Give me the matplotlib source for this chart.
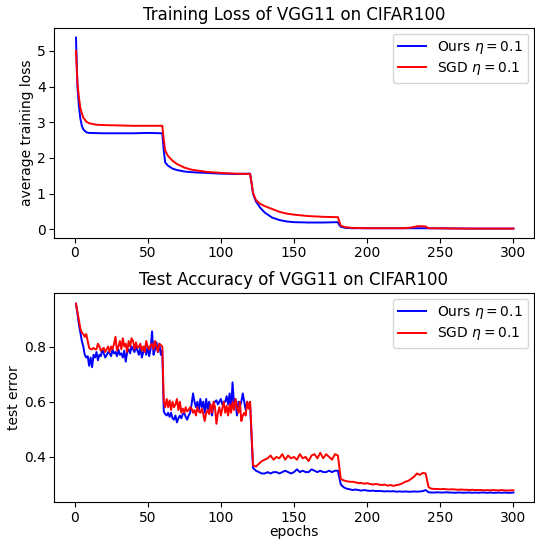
import numpy as np
import matplotlib
matplotlib.use("Agg")
from matplotlib import pyplot as plt

# training loss, read at key epochs
loss_ep_ours = [1, 2, 3, 4, 5, 6, 8, 10, 20, 30, 40, 50, 60,
                61, 62, 64, 67, 70, 75, 80, 90, 100, 110, 120,
                121, 122, 124, 127, 130, 135, 140, 145, 150, 160, 170, 180,
                181, 182, 185, 190, 200, 240, 270, 300]
loss_ours = [5.37, 4.0, 3.45, 3.1, 2.9, 2.8, 2.72, 2.70, 2.69, 2.69, 2.69, 2.70, 2.69,
             2.2, 1.87, 1.78, 1.70, 1.66, 1.62, 1.60, 1.58, 1.56, 1.55, 1.56,
             1.3, 1.0, 0.78, 0.6, 0.47, 0.33, 0.26, 0.22, 0.20, 0.19, 0.19, 0.20,
             0.12, 0.07, 0.04, 0.03, 0.03, 0.03, 0.02, 0.02]

loss_ep_sgd = [1, 2, 3, 4, 5, 6, 8, 10, 15, 20, 30, 40, 50, 60,
               61, 62, 64, 67, 70, 75, 80, 90, 100, 110, 120,
               121, 122, 124, 127, 130, 135, 140, 145, 150, 160, 170, 180,
               181, 182, 185, 190, 200, 225, 230, 235, 240, 242, 270, 300]
loss_sgd = [5.0, 4.1, 3.7, 3.4, 3.25, 3.13, 3.02, 2.97, 2.93, 2.92, 2.91, 2.90, 2.90, 2.90,
            2.5, 2.2, 2.05, 1.92, 1.83, 1.73, 1.67, 1.61, 1.58, 1.56, 1.55,
            1.3, 1.02, 0.82, 0.71, 0.65, 0.57, 0.49, 0.44, 0.41, 0.37, 0.35, 0.34,
            0.22, 0.10, 0.06, 0.04, 0.03, 0.03, 0.05, 0.09, 0.08, 0.03, 0.02, 0.02]

# test error, epochs 1..120 every epoch, then every second epoch up to 300
err_early_ours = [0.955, 0.92, 0.88, 0.85, 0.82, 0.80, 0.77, 0.76, 0.765, 0.73,
                  0.76, 0.725, 0.77, 0.76, 0.78, 0.75, 0.77, 0.765, 0.79, 0.775,
                  0.76, 0.77, 0.78, 0.775, 0.765, 0.79, 0.775, 0.78, 0.765, 0.79,
                  0.77, 0.775, 0.76, 0.785, 0.745, 0.78, 0.79, 0.775, 0.80, 0.79,
                  0.78, 0.80, 0.785, 0.77, 0.80, 0.76, 0.78, 0.80, 0.77, 0.80,
                  0.765, 0.79, 0.855, 0.77, 0.79, 0.815, 0.78, 0.81, 0.77, 0.785,
                  0.565, 0.555, 0.55, 0.56, 0.545, 0.56, 0.54, 0.535, 0.55, 0.525,
                  0.54, 0.55, 0.54, 0.555, 0.56, 0.545, 0.535, 0.55, 0.56, 0.59,
                  0.63, 0.60, 0.58, 0.60, 0.57, 0.61, 0.58, 0.60, 0.56, 0.61,
                  0.57, 0.60, 0.58, 0.55, 0.59, 0.60, 0.605, 0.59, 0.60, 0.61,
                  0.59, 0.60, 0.60, 0.62, 0.59, 0.63, 0.57, 0.67, 0.59, 0.61,
                  0.55, 0.60, 0.58, 0.60, 0.63, 0.60, 0.57, 0.60, 0.585, 0.59]
err_early_sgd = [0.955, 0.925, 0.895, 0.865, 0.85, 0.845, 0.835, 0.845, 0.82, 0.795,
                 0.79, 0.79, 0.795, 0.79, 0.79, 0.81, 0.80, 0.785, 0.79, 0.795,
                 0.78, 0.79, 0.80, 0.78, 0.80, 0.79, 0.81, 0.835, 0.785, 0.80,
                 0.82, 0.79, 0.83, 0.80, 0.81, 0.78, 0.82, 0.80, 0.83, 0.82,
                 0.79, 0.815, 0.795, 0.80, 0.81, 0.785, 0.80, 0.78, 0.82, 0.80,
                 0.79, 0.805, 0.81, 0.79, 0.82, 0.80, 0.78, 0.81, 0.805, 0.80,
                 0.60, 0.58, 0.61, 0.58, 0.605, 0.57, 0.60, 0.58, 0.59, 0.61,
                 0.57, 0.60, 0.56, 0.575, 0.56, 0.58, 0.565, 0.57, 0.58, 0.575,
                 0.56, 0.57, 0.55, 0.58, 0.565, 0.56, 0.575, 0.555, 0.53, 0.56,
                 0.57, 0.555, 0.59, 0.56, 0.60, 0.58, 0.52, 0.56, 0.58, 0.55,
                 0.575, 0.60, 0.56, 0.585, 0.55, 0.59, 0.56, 0.60, 0.57, 0.61,
                 0.58, 0.56, 0.60, 0.53, 0.55, 0.56, 0.55, 0.60, 0.575, 0.60]

err_late_ours = [0.36, 0.35, 0.345, 0.34, 0.34, 0.345, 0.34, 0.345, 0.345, 0.34,
                 0.345, 0.35, 0.345, 0.34, 0.345, 0.355, 0.345, 0.35, 0.345, 0.345,
                 0.355, 0.35, 0.345, 0.35, 0.345, 0.345, 0.35, 0.345, 0.35, 0.35,
                 0.30, 0.29, 0.285, 0.283, 0.28, 0.282, 0.28, 0.278, 0.28, 0.278,
                 0.277, 0.278, 0.276, 0.277, 0.276, 0.275, 0.276, 0.275, 0.276, 0.274,
                 0.275, 0.274, 0.275, 0.274, 0.274, 0.275, 0.274, 0.275, 0.276, 0.28,
                 0.272, 0.271, 0.271, 0.272, 0.271, 0.271, 0.272, 0.271, 0.271, 0.27,
                 0.271, 0.271, 0.27, 0.271, 0.271, 0.27, 0.271, 0.27, 0.271, 0.271,
                 0.27, 0.271, 0.27, 0.27, 0.271, 0.27, 0.271, 0.27, 0.27, 0.271]
err_late_sgd = [0.37, 0.365, 0.375, 0.385, 0.39, 0.395, 0.405, 0.39, 0.40, 0.395,
                0.41, 0.39, 0.405, 0.395, 0.40, 0.39, 0.41, 0.395, 0.40, 0.385,
                0.405, 0.41, 0.395, 0.415, 0.395, 0.41, 0.40, 0.39, 0.41, 0.405,
                0.32, 0.315, 0.312, 0.31, 0.31, 0.308, 0.305, 0.306, 0.303, 0.305,
                0.302, 0.30, 0.302, 0.30, 0.298, 0.30, 0.296, 0.298, 0.295, 0.298,
                0.30, 0.304, 0.31, 0.313, 0.32, 0.328, 0.34, 0.335, 0.342, 0.34,
                0.29, 0.285, 0.284, 0.284, 0.283, 0.284, 0.283, 0.282, 0.283, 0.282,
                0.281, 0.282, 0.281, 0.281, 0.28, 0.281, 0.28, 0.28, 0.28, 0.279,
                0.28, 0.279, 0.28, 0.279, 0.279, 0.28, 0.279, 0.278, 0.279, 0.279]

err_ep = np.r_[np.arange(1, 121), np.arange(122, 301, 2)]
err_ours = np.r_[err_early_ours, err_late_ours]
err_sgd = np.r_[err_early_sgd, err_late_sgd]

fig = plt.figure(figsize=(5.35, 5.4), dpi=100)


def style(ax, title, ylabel):
    ax.set_title(title, fontsize=12)
    ax.set_ylabel(ylabel, fontsize=10, labelpad=2)
    ax.set_xlim(-14, 314)
    ax.set_xticks([0, 50, 100, 150, 200, 250, 300])
    ax.tick_params(labelsize=10, pad=2.5)
    ax.legend(loc='upper right', fontsize=10, labelspacing=0.3, borderaxespad=0.4)


ax1 = fig.add_axes([0.101, 0.559, 0.897, 0.389])
ax1.plot(loss_ep_ours, loss_ours, color='b', lw=1.4, label=r'Ours $\eta=0.1$')
ax1.plot(loss_ep_sgd, loss_sgd, color='r', lw=1.4, label=r'SGD $\eta=0.1$')
ax1.set_yticks([0, 1, 2, 3, 4, 5])
style(ax1, 'Training Loss of VGG11 on CIFAR100', 'average training loss')

ax2 = fig.add_axes([0.101, 0.070, 0.897, 0.387])
ax2.plot(err_ep, err_ours, color='b', lw=1.4, label=r'Ours $\eta=0.1$')
ax2.plot(err_ep, err_sgd, color='r', lw=1.4, label=r'SGD $\eta=0.1$')
ax2.set_ylim(0.236, 0.993)
ax2.set_yticks([0.4, 0.6, 0.8])
ax2.set_xlabel('epochs', fontsize=10, labelpad=0)
style(ax2, 'Test Accuracy of VGG11 on CIFAR100', 'test error')

fig.savefig('out.png', dpi=100)
